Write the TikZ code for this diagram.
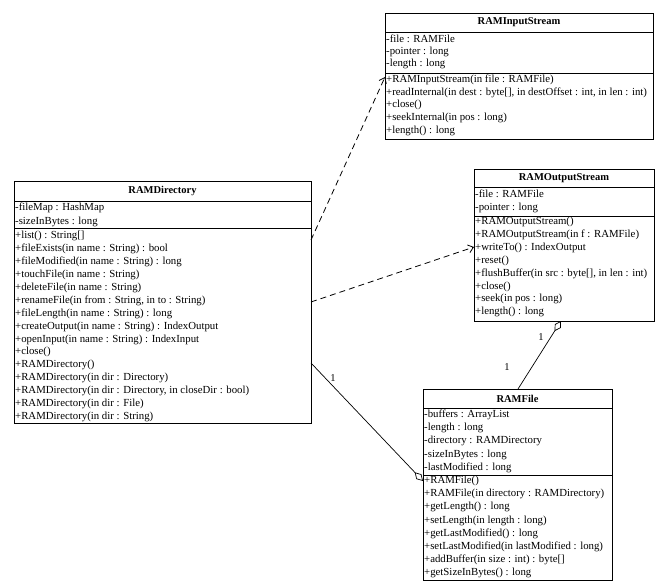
\documentclass[tikz,border=0pt]{standalone}
\usepackage{fontspec}
\setmainfont{Liberation Serif}
\usetikzlibrary{arrows.meta,calc}
\begin{document}
\begin{tikzpicture}[x=1pt,y=-1pt,
  box/.style={draw, line width=0.7pt, anchor=north west, inner sep=0pt, outer sep=0pt},
  sepline/.style={line width=0.7pt},
  row/.style={anchor=west, inner sep=0pt, font=\fontsize{10.8}{12}\selectfont},
  ttl/.style={inner sep=0pt, font=\fontsize{10.5}{12}\selectfont\bfseries},
  lbl/.style={inner sep=0pt, font=\fontsize{10.5}{12}\selectfont},
  dep/.style={line width=0.8pt, dash pattern=on 6pt off 4pt, -{Straight Barb[length=5pt,width=8pt]}},
  agg/.style={line width=0.7pt, -{Diamond[open,length=12pt,width=7pt]}}]
\useasboundingbox (0,0) rectangle (661,585);

% RAMInputStream
\node[box, minimum width=268pt, minimum height=126pt] (ris) at (385,13) {};
\draw[sepline] ([yshift=-19pt]ris.north west) -- ([yshift=-19pt]ris.north east);
\draw[sepline] ([yshift=-60pt]ris.north west) -- ([yshift=-60pt]ris.north east);
\node[ttl] (ris-t) at ($(ris.north)+(0,9.5)$) {RAMInputStream};
\foreach \t [count=\i from 0] in {-file : RAMFile, -pointer : long, -length : long}
  \node[row] (ris-a\i) at (386, 39+\i*12.5) {\t};
\foreach \t [count=\i from 0] in {+RAMInputStream(in file : RAMFile),
  {+readInternal(in dest : byte[], in destOffset : int, in len : int)},
  +close(), +seekInternal(in pos : long), +length() : long}
  \node[row] (ris-o\i) at (386, 80+\i*12.7) {\t};

% RAMOutputStream
\node[box, minimum width=180pt, minimum height=152pt] (ros) at (474,169) {};
\draw[sepline] ([yshift=-18pt]ros.north west) -- ([yshift=-18pt]ros.north east);
\draw[sepline] ([yshift=-47pt]ros.north west) -- ([yshift=-47pt]ros.north east);
\node[ttl] (ros-t) at ($(ros.north)+(0,9)$) {RAMOutputStream};
\foreach \t [count=\i from 0] in {-file : RAMFile, -pointer : long}
  \node[row] (ros-a\i) at (475, 194+\i*13.5) {\t};
\foreach \t [count=\i from 0] in {+RAMOutputStream(), +RAMOutputStream(in f : RAMFile),
  +writeTo() : IndexOutput, +reset(), {+flushBuffer(in src : byte[], in len : int)},
  +close(), +seek(in pos : long), +length() : long}
  \node[row] (ros-o\i) at (475, 222+\i*12.9) {\t};

% RAMDirectory
\node[box, minimum width=297pt, minimum height=242pt] (rd) at (14,181) {};
\draw[sepline] ([yshift=-20pt]rd.north west) -- ([yshift=-20pt]rd.north east);
\draw[sepline] ([yshift=-47pt]rd.north west) -- ([yshift=-47pt]rd.north east);
\node[ttl] (rd-t) at ($(rd.north)+(0,10)$) {RAMDirectory};
\foreach \t [count=\i from 0] in {-fileMap : HashMap, -sizeInBytes : long}
  \node[row] (rd-a\i) at (15, 208+\i*13.5) {\t};
\foreach \t [count=\i from 0] in {+list() : String[], +fileExists(in name : String) : bool,
  +fileModified(in name : String) : long, +touchFile(in name : String),
  +deleteFile(in name : String), {+renameFile(in from : String, in to : String)},
  +fileLength(in name : String) : long, +createOutput(in name : String) : IndexOutput,
  +openInput(in name : String) : IndexInput, +close(), +RAMDirectory(),
  +RAMDirectory(in dir : Directory), {+RAMDirectory(in dir : Directory, in closeDir : bool)},
  +RAMDirectory(in dir : File), +RAMDirectory(in dir : String)}
  \node[row] (rd-o\i) at (15, 236+\i*12.93) {\t};

% RAMFile
\node[box, minimum width=189pt, minimum height=191pt] (rf) at (423,389) {};
\draw[sepline] ([yshift=-19pt]rf.north west) -- ([yshift=-19pt]rf.north east);
\draw[sepline] ([yshift=-86pt]rf.north west) -- ([yshift=-86pt]rf.north east);
\node[ttl] (rf-t) at ($(rf.north)+(0,9.5)$) {RAMFile};
\foreach \t [count=\i from 0] in {-buffers : ArrayList, -length : long,
  -directory : RAMDirectory, -sizeInBytes : long, -lastModified : long}
  \node[row] (rf-a\i) at (424, 415+\i*13.2) {\t};
\foreach \t [count=\i from 0] in {+RAMFile(), +RAMFile(in directory : RAMDirectory),
  +getLength() : long, +setLength(in length : long), +getLastModified() : long,
  +setLastModified(in lastModified : long), +addBuffer(in size : int) : byte[],
  +getSizeInBytes() : long}
  \node[row] (rf-o\i) at (424, 481+\i*13.2) {\t};

% connectors
\draw[dep] ([yshift=-59pt]rd.north east) -- ([yshift=-64pt]ris.north west);
\draw[dep] ([yshift=-121pt]rd.north east) -- ([yshift=-78pt]ros.north west);
\draw[agg] ([xshift=95pt]rf.north west) -- ([xshift=87pt]ros.south west);
\draw[agg] ([yshift=-182pt]rd.north east) -- ([yshift=-92pt]rf.north west);

\node[lbl] (m1) at (541,337) {1};
\node[lbl] (m2) at (507,367) {1};
\node[lbl] (m3) at (333,378) {1};
\end{tikzpicture}
\end{document}
